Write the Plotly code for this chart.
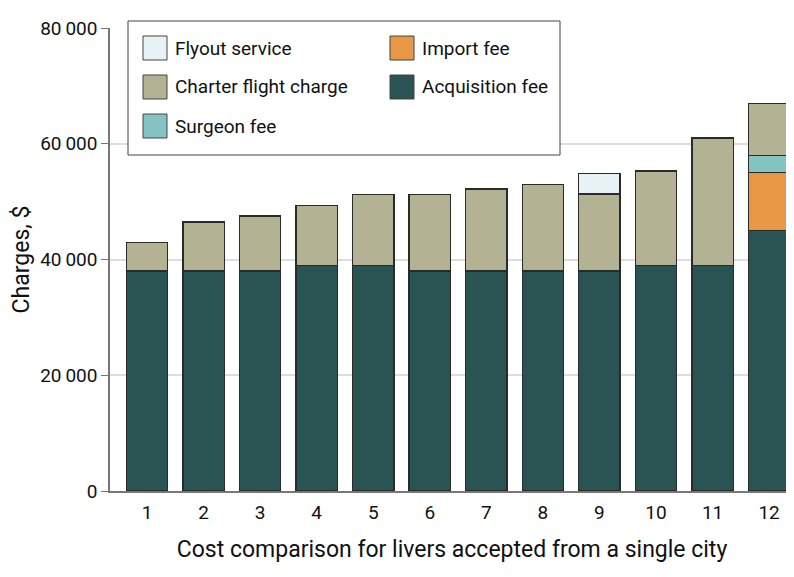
import plotly.graph_objects as go

cities = [1, 2, 3, 4, 5, 6, 7, 8, 9, 10, 11, 12]
acquisition = [38000, 38000, 38000, 39000, 39000, 38000, 38000, 38000, 38000, 39000, 39000, 45000]
import_fee = [0, 0, 0, 0, 0, 0, 0, 0, 0, 0, 0, 10000]
surgeon = [0, 0, 0, 0, 0, 0, 0, 0, 0, 0, 0, 3000]
charter = [4900, 8500, 9500, 10300, 12200, 13200, 14200, 14900, 13300, 16300, 22000, 9000]
flyout = [0, 0, 0, 0, 0, 0, 0, 0, 3500, 0, 0, 0]

series = [
    ("Acquisition fee", acquisition, "#2a5353"),
    ("Import fee", import_fee, "#e89845"),
    ("Surgeon fee", surgeon, "#84c3c1"),
    ("Charter flight charge", charter, "#b3b394"),
    ("Flyout service", flyout, "#e8f3f5"),
]
legend_layout = [
    ("Flyout service", 0, 0), ("Import fee", 1, 0),
    ("Charter flight charge", 0, 1), ("Acquisition fee", 1, 1),
    ("Surgeon fee", 0, 2),
]
colors = {n: c for n, _, c in series}

FONT = "Roboto, sans-serif"
FS = 19

fig = go.Figure()
for name, vals, col in series:
    fig.add_trace(go.Bar(
        x=cities, y=vals, name=name, marker_color=col,
        marker_line_color="#2a2a2a", marker_line_width=1.3,
        width=0.73, showlegend=False,
    ))

# page is offset by the 8px body margin; work in window pixel coords
OFF = 8
W, H = 684, 463
def px(x): return (x - 110) / W
def py(y): return (491 - y) / H

shapes = [dict(type="rect", xref="paper", yref="paper",
               x0=px(128), x1=px(560), y0=py(155), y1=py(21),
               line=dict(color="#444", width=1), fillcolor="white", layer="above")]
annotations = []
for name, col_i, row_i in legend_layout:
    sx = 143 if col_i == 0 else 390
    cy = 48 + row_i * 39
    shapes.append(dict(type="rect", xref="paper", yref="paper",
                       x0=px(sx), x1=px(sx + 24), y0=py(cy + 12), y1=py(cy - 12),
                       line=dict(color="#444", width=1), fillcolor=colors[name], layer="above"))
    annotations.append(dict(xref="paper", yref="paper", x=px(sx + 30), y=py(cy),
                            text=name, showarrow=False, xanchor="left", yanchor="middle",
                            font=dict(family=FONT, size=FS, color="#111")))

fig.update_layout(
    barmode="stack",
    width=794 - OFF, height=577 - OFF,
    margin=dict(l=110 - OFF, r=0, t=28 - OFF, b=86, pad=0),
    plot_bgcolor="white", paper_bgcolor="white",
    separators=".\u2009",
    font=dict(family=FONT, size=FS, color="#111"),
    shapes=shapes, annotations=annotations,
)
fig.update_xaxes(
    range=[0.346, 12.44], tickvals=cities, ticktext=[str(c) for c in cities],
    showline=True, linecolor="#777", linewidth=1.5,
    ticks="outside", ticklen=3, tickcolor="rgba(0,0,0,0)", showgrid=False,
    title=dict(text="Cost comparison for livers accepted from a single city", standoff=18),
    tickfont=dict(size=FS),
)
fig.update_yaxes(
    range=[0, 80000], tickvals=[0, 20000, 40000, 60000, 80000], tickformat=",d",
    showline=True, linecolor="#777", linewidth=1.5, ticks="outside", ticklen=7,
    tickcolor="#777", showgrid=True, gridcolor="#dddddd", gridwidth=1.5, zeroline=False,
    title=dict(text="Charges, $", standoff=8),
    tickfont=dict(size=FS),
)
fig.write_html("out.html")
